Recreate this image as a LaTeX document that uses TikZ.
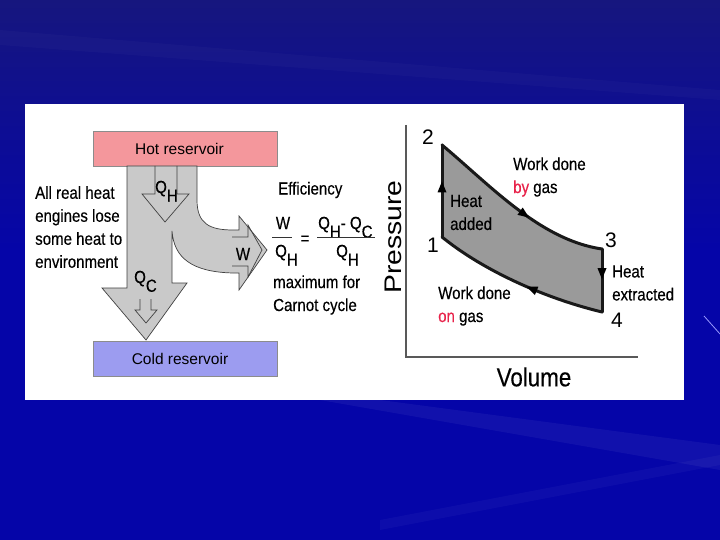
\documentclass[tikz,border=0pt]{standalone}
\usepackage{fontspec}
\setmainfont{Liberation Sans}
\newfontfamily\cf{Liberation Sans}[FakeStretch=0.86,FakeBold=0.3]
\usetikzlibrary{arrows.meta,decorations.markings}
\definecolor{bgtop}{HTML}{16167E}
\definecolor{bgbot}{HTML}{0505A8}
\definecolor{hotpink}{HTML}{F4979C}
\definecolor{coldblue}{HTML}{9C9CF0}
\definecolor{flowgray}{HTML}{C9C9C9}
\definecolor{cyclegray}{HTML}{9A9A9A}
\definecolor{redword}{HTML}{E8234A}
\newcommand{\sbs}[1]{\raisebox{-0.5em}{#1}}
\begin{document}
\begin{tikzpicture}[x=1pt,y=-1pt,
  txt/.style={font=\cf\fontsize{17.5}{17.5}\selectfont, inner sep=0pt, text=black},
  txtl/.style={txt, anchor=west, align=left, font=\cf\fontsize{17.5}{23}\selectfont},
  num/.style={font=\fontsize{21}{21}\selectfont, inner sep=0pt, text=black},
  res/.style={draw=black!45, line width=0.8pt, minimum width=184pt, minimum height=35pt, inner sep=0pt},
  reslbl/.style={font=\fontsize{15.5}{15.5}\selectfont, inner sep=0pt, text=black},
  flow/.style={fill=flowgray, draw=black!75, line width=0.7pt, line join=miter},
  openarrow/.style={draw=black!75, line width=0.7pt},
  axisline/.style={draw=black!65, line width=2.5pt},
  cycedge/.style={line width=3pt, draw=black!90, line cap=round},
  midarrow/.style={postaction={decorate, decoration={markings, mark=at position #1 with {\fill[black] (5,0) -- (-6,4.5) -- (-6,-4.5) -- cycle;}}}},
]
\useasboundingbox (0,0) rectangle (720,540);
% slide background
\fill[bgbot] (0,0) rectangle (720,540);
\shade[top color=bgtop, bottom color=bgbot] (0,0) rectangle (720,250);
\fill[white, opacity=0.05] (320,392) -- (720,445) -- (720,470) -- (320,400) -- cycle;
\fill[white, opacity=0.035] (380,520) -- (720,455) -- (720,465) -- (380,530) -- cycle;
\fill[white, opacity=0.025] (0,30) -- (720,90) -- (720,100) -- (0,45) -- cycle;
\draw[white!60!blue, line width=0.8pt] (704,316) -- (720,334);
% white panel
\fill[white] (25,104) rectangle (684,400);

% reservoirs
\node[res, fill=hotpink] (hot) at (185,148.5) {};
\node[reslbl] (hotlbl) at (179.5,148.5) {Hot reservoir};
\node[res, fill=coldblue] (cold) at (185,358.5) {};
\node[reslbl] (coldlbl) at (180,358.5) {Cold reservoir};

% heat flow
\draw[flow] (127,166) -- (197,166) -- (197,200)
  .. controls (197,224) and (210,230) .. (233,230) -- (239,230) -- (239,216)
  -- (267,250) -- (239,290) -- (239,273) -- (233,273)
  .. controls (192,272) and (174,258) .. (172,231)
  -- (172,283) -- (187,283) -- (146,340) -- (102,288) -- (127,288) -- cycle;
% inner open arrows
\draw[openarrow] (155,166) -- (155,194) -- (142,194) -- (165,222) -- (189,194) -- (177,194) -- (177,166);
\draw[openarrow] (140,299) -- (140,310) -- (135,310) -- (146,323) -- (157,310) -- (151,310) -- (151,299);
\draw[openarrow] (232,237) -- (248,237) -- (248,225) -- (262,250) -- (248,277) -- (248,266) -- (232,266);
\node[txt, anchor=base west] (qh) at (155,193) {Q\sbs{H}};
\node[txt, anchor=base west] (qc) at (134,283) {Q\sbs{C}};
\node[txt] (wl) at (243,254) {W};

% left text
\node[txtl] (lose) at (35,227) {All real heat\\engines lose\\some heat to\\environment};

% efficiency
\node[txtl] (eff) at (278,190) {Efficiency};
\node[txt] (wnum) at (283,223) {W};
\draw[black!80, line width=0.9pt] (272,237) -- (292,237);
\node[txt, anchor=base west] (wden) at (275,257) {Q\sbs{H}};
\node[txt] (eq) at (305,240) {=};
\node[txt, anchor=base west] (qnum) at (318,229) {Q\sbs{H}- Q\sbs{C}};
\draw[black!80, line width=0.9pt] (317,237) -- (375,237);
\node[txt, anchor=base west] (qden) at (336,257) {Q\sbs{H}};
\node[txtl] (maxc) at (273,295) {maximum for\\Carnot cycle};

% PV diagram axes
\coordinate (ytop) at (406,125);
\coordinate (orig) at (406,357);
\coordinate (xend) at (638,357);
\draw[axisline] (ytop) -- (orig) -- (xend);
\node[inner sep=0pt, rotate=90, font=\fontsize{24}{24}\selectfont] (pres) at (393,237) {\scalebox{1.18}[1]{Pressure}};
\node[inner sep=0pt, font=\cf\fontsize{26}{26}\selectfont] (vol) at (534,377) {Volume};

% cycle
\coordinate (p1) at (442,237);
\coordinate (p2) at (442,145);
\coordinate (p3) at (602,249);
\coordinate (p4) at (602,312);
\fill[cyclegray] (p1) -- (p2) .. controls (490,185) and (540,240) .. (p3)
  -- (p4) .. controls (540,297) and (480,268) .. (p1) -- cycle;
\draw[cycedge, midarrow=0.55] (p1) -- (p2);
\draw[cycedge, midarrow=0.56] (p2) .. controls (490,185) and (540,240) .. (p3);
\draw[cycedge, midarrow=0.4] (p3) -- (p4);
\draw[cycedge, midarrow=0.42] (p4) .. controls (540,297) and (480,268) .. (p1);

\node[num] (n2) at (428,137) {2};
\node[num] (n1) at (433,245) {1};
\node[num] (n3) at (611,240) {3};
\node[num] (n4) at (617,320) {4};

\node[txtl] (wby) at (513,177) {Work done\\{\color{redword}by} gas};
\node[txtl] (hadd) at (450,212.5) {Heat\\added};
\node[txtl] (hext) at (612,283) {Heat\\extracted};
\node[txtl] (won) at (438,306) {Work done\\{\color{redword}on} gas};
\end{tikzpicture}
\end{document}
